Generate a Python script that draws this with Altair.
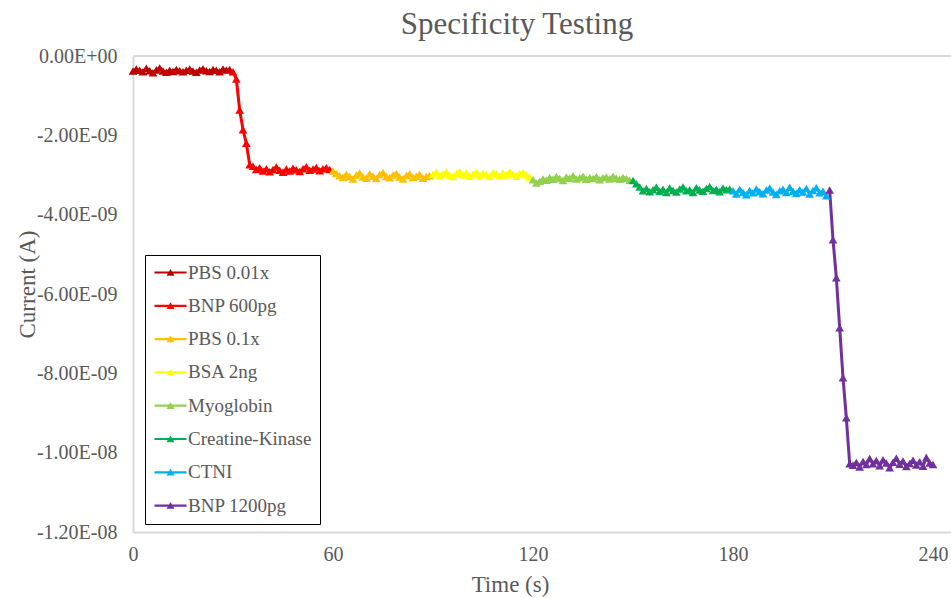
import altair as alt
import pandas as pd

# Series shown in the legend, in order, with their line colours
series_names = ["PBS 0.01x", "BNP 600pg", "PBS 0.1x", "BSA 2ng",
                "Myoglobin", "Creatine-Kinase", "CTNI", "BNP 1200pg"]
series_colors = ["#C00000", "#FF0000", "#FFC000", "#FFFF00",
                 "#92D050", "#00B050", "#00B0F0", "#7030A0"]
# first time point (s) of every series; readings are one per second
series_start = [0, 30, 60, 90, 120, 150, 180, 209]

# Current readings in nA (x 1e-9 A)
pbs_001x = [-0.38, -0.33, -0.36, -0.40, -0.31, -0.37, -0.42, -0.35, -0.30, -0.38,
            -0.41, -0.36, -0.39, -0.34, -0.37, -0.40, -0.36, -0.33, -0.38, -0.41,
            -0.35, -0.32, -0.37, -0.39, -0.34, -0.36, -0.40, -0.33, -0.35, -0.34]
bnp_600pg = [-0.40, -0.58, -1.36, -1.86, -2.20, -2.74, -2.78, -2.86, -2.82, -2.90,
             -2.84, -2.92, -2.86, -2.80, -2.88, -2.93, -2.85, -2.90, -2.83, -2.87,
             -2.91, -2.84, -2.79, -2.88, -2.85, -2.81, -2.89, -2.84, -2.82, -2.86]
pbs_01x = [-2.90, -2.96, -3.02, -3.06, -2.98, -3.04, -3.10, -3.00, -2.95, -3.05,
           -3.08, -2.97, -3.03, -3.09, -2.99, -2.94, -3.04, -3.07, -3.00, -2.96,
           -3.05, -3.10, -3.01, -2.97, -3.06, -3.03, -2.98, -3.08, -3.04, -3.02]
bsa_2ng = [-2.98, -2.93, -3.02, -2.97, -2.92, -3.01, -3.04, -2.96, -2.91, -3.00,
           -2.95, -3.03, -2.98, -2.93, -3.01, -2.96, -2.99, -3.04, -2.94, -2.97,
           -3.02, -2.95, -3.00, -2.92, -2.98, -3.03, -2.96, -2.94, -3.00, -3.05]
myoglobin = [-3.12, -3.20, -3.16, -3.10, -3.13, -3.06, -3.11, -3.04, -3.09, -3.14,
             -3.05, -3.08, -3.02, -3.10, -3.07, -3.03, -3.11, -3.06, -3.09, -3.04,
             -3.12, -3.07, -3.05, -3.10, -3.03, -3.08, -3.11, -3.06, -3.09, -3.13]
creatine_kinase = [-3.14, -3.22, -3.30, -3.40, -3.34, -3.42, -3.37, -3.31, -3.41, -3.36,
                   -3.44, -3.33, -3.39, -3.43, -3.35, -3.30, -3.40, -3.37, -3.44, -3.32,
                   -3.38, -3.41, -3.34, -3.29, -3.39, -3.36, -3.42, -3.33, -3.37, -3.35]
ctni = [-3.40, -3.48, -3.36, -3.44, -3.50, -3.39, -3.45, -3.35, -3.42, -3.47,
        -3.38, -3.33, -3.43, -3.49, -3.40, -3.36, -3.44, -3.31, -3.41, -3.46,
        -3.37, -3.43, -3.34, -3.48, -3.39, -3.32, -3.45, -3.41, -3.52]
bnp_1200pg = [-3.38, -4.63, -5.59, -6.85, -8.11, -9.12,
              -10.28, -10.32, -10.25, -10.36, -10.22, -10.30, -10.15, -10.28, -10.20, -10.33,
              -10.18, -10.26, -10.38, -10.24, -10.14, -10.29, -10.21, -10.35, -10.27, -10.19,
              -10.31, -10.23, -10.34, -10.12, -10.26, -10.30]

series_values = [pbs_001x, bnp_600pg, pbs_01x, bsa_2ng,
                 myoglobin, creatine_kinase, ctni, bnp_1200pg]

# Axis ticks
x_ticks = [0, 60, 120, 180, 240]
y_ticks_nA = [0, -2, -4, -6, -8, -10, -12]
y_tick_labels = ["0.00E+00", "-2.00E-09", "-4.00E-09", "-6.00E-09",
                 "-8.00E-09", "-1.00E-08", "-1.20E-08"]

rows = []
for name, start, vals in zip(series_names, series_start, series_values):
    for i, v in enumerate(vals):
        rows.append({"series": name, "t": start + i, "current": v / 1e9})
df = pd.DataFrame(rows)

label_expr = " : ".join(
    f"round(datum.value * 1e9) == {v} ? '{lab}'" for v, lab in zip(y_ticks_nA, y_tick_labels)
) + " : ''"

FONT = "Liberation Serif"
TEXT = "#595959"
FRAME = "#D9D9D9"

x_enc = alt.X(
    "t:Q",
    scale=alt.Scale(domain=[0, 245.4], nice=False, zero=False),
    axis=alt.Axis(values=x_ticks, title="Time (s)", grid=False, ticks=False, tickSize=0,
                  domainColor=FRAME, domainWidth=2, labelFont=FONT, labelFontSize=20,
                  labelColor=TEXT, labelPadding=12, labelFlush=False,
                  titleFont=FONT, titleFontSize=23, titleFontWeight="normal",
                  titleColor=TEXT, titleX=377, titleY=41, titleBaseline="top"),
)
y_enc = alt.Y(
    "current:Q",
    scale=alt.Scale(domain=[-1.2e-8, 0], nice=False, zero=False),
    axis=alt.Axis(values=[float(f"{v}e-9") for v in y_ticks_nA], labelExpr=label_expr,
                  title="Current (A)", grid=False, ticks=False, tickSize=0,
                  domainColor=FRAME, domainWidth=2, labelFont=FONT, labelFontSize=20,
                  labelColor=TEXT, labelPadding=16, labelFlush=False, labelOverlap=False,
                  titleFont=FONT, titleFontSize=23, titleFontWeight="normal",
                  titleColor=TEXT, titleX=-94, titleY=228),
)

# legend glyph: short line with a triangle marker, drawn right of the symbol centre
legend = alt.Legend(
    title=None, orient="none", legendX=12, legendY=199,
    symbolType="M-1,-0.14H3V0.14H-1Z M0.5,0.4L1,-0.44L1.5,0.4Z",
    symbolSize=256, symbolStrokeWidth=0, symbolOpacity=1,
    labelFont=FONT, labelFontSize=19, labelColor=TEXT, labelOffset=16,
    rowPadding=13.3, padding=8, strokeColor="#000000", fillColor="#FFFFFF",
)
color_enc = alt.Color("series:N",
                      scale=alt.Scale(domain=series_names, range=series_colors),
                      sort=series_names, legend=legend)

base = alt.Chart(df)

lines = base.mark_line(strokeWidth=3).encode(x=x_enc, y=y_enc, color=color_enc)

points = base.mark_point(shape="triangle-up", filled=True, size=75, opacity=1).encode(
    x=x_enc, y=y_enc, color=color_enc
)

# horizontal axis line at zero current along the top of the plot
zero_line = alt.Chart(pd.DataFrame({"y0": [0.0]})).mark_rule(
    color=FRAME, strokeWidth=2
).encode(y="y0:Q")

chart = alt.layer(zero_line, lines, points).properties(
    width=818,
    height=476,
    autosize=alt.AutoSizeParams(type="none"),
    padding={"left": 133, "top": 56, "right": 0, "bottom": 66},
    title=alt.Title("Specificity Testing", font=FONT, fontSize=31, fontWeight="normal",
                    color=TEXT, anchor="middle", dx=-25, offset=5),
).configure_view(stroke=None).configure_legend(strokeWidth=1)

chart.save("out.html", embed_options={"renderer": "svg", "actions": False})
